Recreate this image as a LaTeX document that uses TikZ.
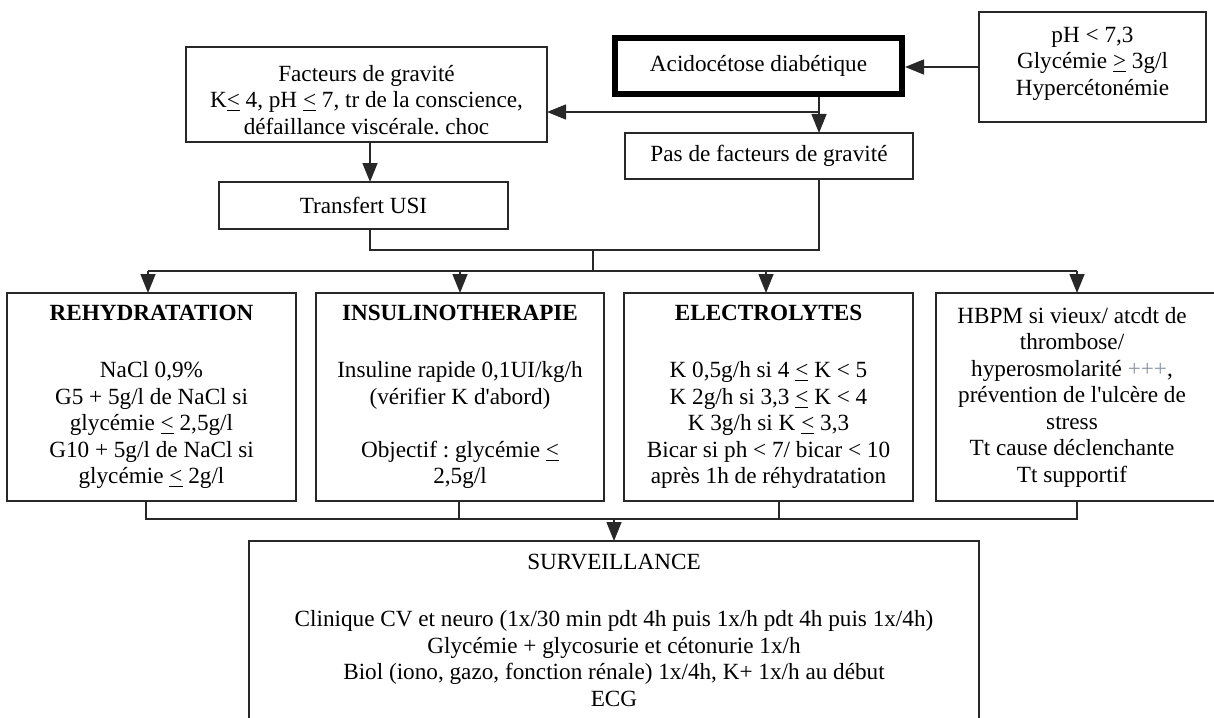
\documentclass[tikz,border=0pt]{standalone}
\usepackage{fontspec}
\setmainfont{Liberation Serif}
\usetikzlibrary{arrows.meta}
\definecolor{plusgray}{RGB}{140,150,165}
\definecolor{linecol}{RGB}{40,40,40}
\newcommand{\leu}{\underline{<}}
\newcommand{\geu}{\underline{>}}
\frenchspacing
\begin{document}
\frenchspacing
\begin{tikzpicture}[x=0.5pt,y=-0.5pt,
  txt/.style={inner sep=0pt, align=center, font=\fontsize{11.6}{13.25}\selectfont\frenchspacing},
  box/.style={txt, draw=linecol, line width=0.75pt, outer sep=0pt},
  thickbox/.style={box, draw=black, line width=3pt, outer sep=1.5pt},
  ln/.style={draw=linecol, line width=0.75pt},
  arr/.style={-{Triangle[length=9.5pt,width=7.5pt]}}]
\useasboundingbox (0,0) rectangle (1214,717);
\clip (0,0) rectangle (1214,717);

% boxes
\node[box, minimum width=180.5pt, minimum height=47.5pt] (fact) at (366.5,94.5)
  {\rule{0pt}{13.5pt}Facteurs de gravité\\ K\leu{} 4, pH \leu{} 7, tr de la conscience,\\ défaillance viscérale. choc};
\node[box, minimum width=144.5pt, minimum height=23.5pt] (trans) at (363.5,205.5) {Transfert USI};
\node[thickbox, minimum width=143.5pt, minimum height=28pt] (acido) at (758.5,66) {Acidocétose diabétique};
\node[box, minimum width=144pt, minimum height=23pt] (pas) at (769,156) {Pas de facteurs de gravité};
\node[box, minimum width=113.5pt, minimum height=55pt] (ph) at (1092.5,67)
  {pH < 7,3\\ Glycémie \geu{} 3g/l\\ Hypercétonémie\rule[-6pt]{0pt}{6pt}};

\node[box, minimum width=144.5pt, minimum height=104pt] (b1) at (151.5,397)
  {\textbf{REHYDRATATION}\\[15.25pt] NaCl 0,9\%\\ G5 + 5g/l de NaCl si\\ glycémie \leu{} 2,5g/l\\ G10 + 5g/l de NaCl si\\ glycémie \leu{} 2g/l};
\node[box, minimum width=144pt, minimum height=104pt] (b2) at (460,397)
  {\textbf{INSULINOTHERAPIE}\\[15.25pt] Insuline rapide 0,1UI/kg/h\\ (vérifier K d\textquotesingle abord)\\[13.25pt] Objectif : glycémie \leu\\ 2,5g/l};
\node[box, minimum width=144.5pt, minimum height=104pt] (b3) at (768.5,397)
  {\textbf{ELECTROLYTES}\\[15.25pt] K 0,5g/h si 4 \leu{} K < 5\\ K 2g/h si 3,3 \leu{} K < 4\\ K 3g/h si K \leu{} 3,3\\ Bicar si ph < 7/ bicar < 10\\ après 1h de réhydratation};
\node[box, minimum width=142pt, minimum height=104pt] (b4) at (1078,397) {};
\node[txt] (b4text) at (1072,397)
  {HBPM si vieux/ atcdt de\\ thrombose/\\ hyperosmolarité {\color{plusgray}+++},\\ prévention de l\textquotesingle ulcère de\\ stress\\ Tt cause déclenchante\\ Tt supportif};

\node[box, minimum width=365pt, minimum height=89.5pt] (surv) at (614,630.5)
  {SURVEILLANCE\\[15.25pt] Clinique CV et neuro (1x/30 min pdt 4h puis 1x/h pdt 4h puis 1x/4h)\\ Glycémie + glycosurie et cétonurie 1x/h\\ Biol (iono, gazo, fonction rénale) 1x/4h, K+ 1x/h au début\\ ECG};

% connectors top
\draw[ln,arr] (ph.west) -- (ph.west -| acido.east);
\coordinate (j1) at (819,112);
\draw[ln] (acido.south -| j1) -- (j1);
\draw[ln,arr] (j1) -- (j1 -| fact.east);
\draw[ln,arr] (j1) -- (j1 |- pas.north);
\coordinate (cx1) at (370,0);
\draw[ln,arr] (fact.south -| cx1) -- (trans.north -| cx1);
\coordinate (j2) at (370,250);
\coordinate (j3) at (819,250);
\coordinate (j4) at (593,250);
\coordinate (j5) at (593,271);
\draw[ln] (trans.south -| j2) -- (j2) -- (j3) -- (pas.south -| j3);
\draw[ln] (j4) -- (j5);
\coordinate (a1) at (148,271);
\coordinate (a2) at (460,271);
\coordinate (a3) at (766,271);
\coordinate (a4) at (1077,271);
\draw[ln] (a1) -- (a4);
\draw[ln,arr] (a1) -- (a1 |- b1.north);
\draw[ln,arr] (a2) -- (a2 |- b2.north);
\draw[ln,arr] (a3) -- (a3 |- b3.north);
\draw[ln,arr] (a4) -- (a4 |- b4.north);

% connectors bottom
\coordinate (d1) at (146,519);
\coordinate (d2) at (459,519);
\coordinate (d3) at (779,519);
\coordinate (d4) at (1077,519);
\coordinate (d5) at (614,519);
\draw[ln] (b1.south -| d1) -- (d1) -- (d4) -- (b4.south -| d4);
\draw[ln] (b2.south -| d2) -- (d2);
\draw[ln] (b3.south -| d3) -- (d3);
\draw[ln,arr] (d5) -- (d5 |- surv.north);
\end{tikzpicture}
\end{document}
